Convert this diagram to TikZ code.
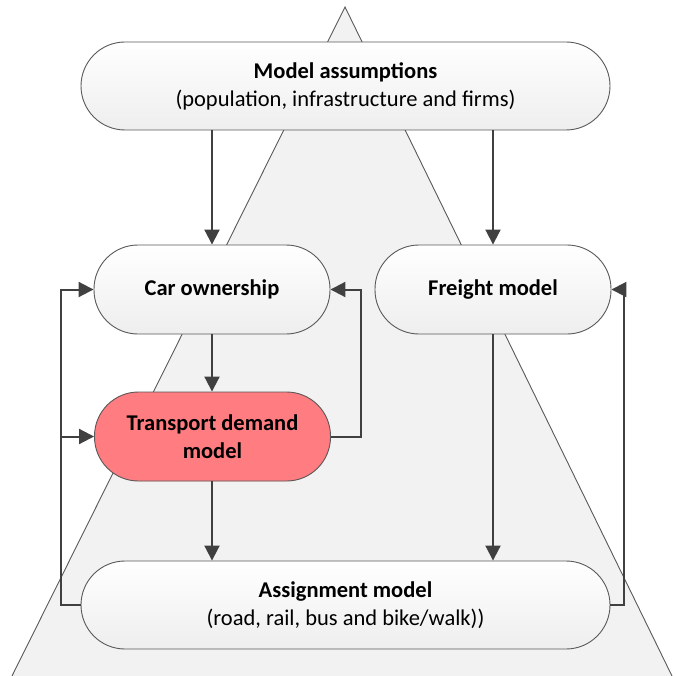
\documentclass[tikz,border=0pt]{standalone}
\usepackage{fontspec}
\setmainfont{Carlito}
\usetikzlibrary{arrows.meta,calc}
\definecolor{tri}{RGB}{242,242,242}
\definecolor{boxline}{RGB}{89,89,89}
\definecolor{conn}{RGB}{64,64,64}
\definecolor{demand}{RGB}{255,124,128}
\tikzset{
  pill/.style={draw=boxline, line width=0.9pt, rounded corners=44pt, align=center,
    top color=white, bottom color={rgb,255:red,238;green,238;blue,238},
    font=\fontsize{22.5}{28}\selectfont, inner sep=0pt},
  wide/.style={pill, minimum width=529pt, minimum height=88pt},
  narrow/.style={pill, minimum width=236pt, minimum height=89pt},
  conn/.style={draw=conn, line width=2pt, -{Triangle[length=15pt,width=15pt]}}
}
\begin{document}
\begin{tikzpicture}[x=1pt,y=-1pt]
\useasboundingbox (0,0) rectangle (675,676);
\fill[tri] (345,7) -- (9,682) -- (675,682) -- cycle;
\draw[boxline, line width=0.9pt] (12,676) -- (345,7) -- (672,676);
\node[wide] (top) at (345.5,86) {\textbf{Model assumptions}\\(population, infrastructure and firms)};
\node[narrow] (car) at (212,289.5) {\textbf{Car ownership}};
\node[narrow] (freight) at (493,289.5) {\textbf{Freight model}};
\node[narrow, fill=demand, top color=demand, bottom color=demand] (trans) at (212.5,436.5) {\textbf{Transport demand}\\\textbf{model}};
\node[wide] (assign) at (345.5,605) {\textbf{Assignment model}\\(road, rail, bus and bike/walk))};
\draw[conn] (top.south -| car.north) -- (car.north);
\draw[conn] (top.south -| freight.north) -- (freight.north);
\draw[conn] (car.south) -- (trans.north -| car.south);
\draw[conn] (trans.south -| car.south) -- (assign.north -| car.south);
\draw[conn] (freight.south) -- (assign.north -| freight.south);
\draw[conn] (assign.west) -- ++(-20,0) coordinate (bl) |- (car.west);
\draw[conn] (bl |- trans.west) -- (trans.west);
\draw[conn] (trans.east) -- ++(30,0) |- (car.east);
\draw[conn] (assign.east) -- ++(14,0) |- (freight.east);
\end{tikzpicture}
\end{document}
